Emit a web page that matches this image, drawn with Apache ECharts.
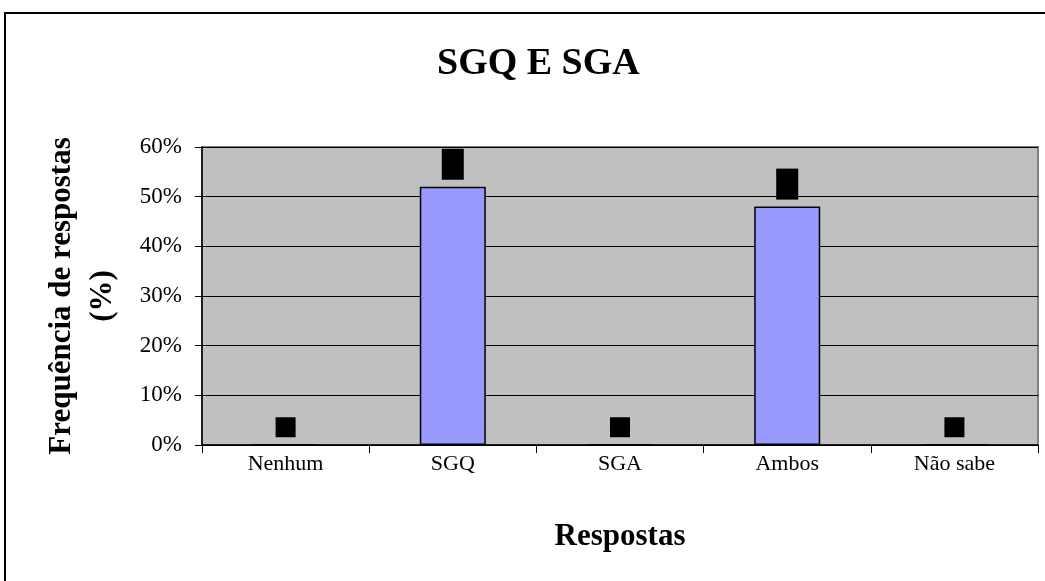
<!DOCTYPE html>
<html>
<head>
<meta charset="utf-8">
<script src="https://cdn.jsdelivr.net/npm/echarts@6/dist/echarts.min.js"></script>
<style>
html, body { margin: 0; padding: 0; background: #fff; }
#chart { width: 1045px; height: 581px; }
</style>
</head>
<body>
<div id="chart"></div>
<script>
var categories = ['Nenhum', 'SGQ', 'SGA', 'Ambos', 'Não sabe'];
var values = [0, 52, 0, 48, 0];
var yTicks = [0, 10, 20, 30, 40, 50, 60];

var serif = 'Liberation Serif';

echarts.init(document.getElementById('chart')).setOption({
	animation: false,
	title: {
		text: 'SGQ E SGA',
		left: 432,
		top: 40,
		textStyle: { fontFamily: serif, fontSize: 38, fontWeight: 'bold', color: '#000' }
	},
	graphic: [{
		type: 'rect',
		shape: { x: 5, y: 13, width: 1200, height: 800 },
		style: { fill: 'none', stroke: '#000', lineWidth: 2 },
		silent: true
	}],
	grid: {
		left: 202, right: 7, top: 147, bottom: 136,
		show: true,
		backgroundColor: '#c0c0c0',
		borderColor: '#808080',
		borderWidth: 2
	},
	xAxis: {
		type: 'category',
		data: categories,
		name: 'Respostas',
		nameLocation: 'middle',
		nameGap: 76,
		nameTextStyle: { fontFamily: serif, fontSize: 31, fontWeight: 'bold', color: '#000' },
		axisLine: { lineStyle: { color: '#000', width: 1.5 } },
		axisTick: { show: true, length: 8, lineStyle: { color: '#000' } },
		axisLabel: { fontFamily: serif, fontSize: 22, color: '#000', margin: 8 }
	},
	yAxis: {
		type: 'value',
		min: yTicks[0],
		max: yTicks[yTicks.length - 1],
		interval: 10,
		name: 'Frequência de respostas\n(%)',
		nameLocation: 'middle',
		nameGap: 79,
		nameTextStyle: { fontFamily: serif, fontSize: 31, fontWeight: 'bold', color: '#000', lineHeight: 41 },
		axisLine: { show: true, lineStyle: { color: '#000', width: 1.5 } },
		axisTick: { show: true, length: 7, lineStyle: { color: '#000' } },
		axisLabel: { fontFamily: serif, fontSize: 23, color: '#000', margin: 20, formatter: '{value}%' },
		splitLine: { lineStyle: { color: '#000', width: 1 } }
	},
	series: [{
		type: 'bar',
		data: values,
		barWidth: 66,
		itemStyle: { color: '#9999ff', borderColor: '#000', borderWidth: 1.5 },
		label: {
			show: true,
			position: 'top',
			distance: 7,
			formatter: function (p) {
				return p.value === 0 ? '{z|0%}' : '{v|' + p.value + '%}';
			},
			rich: {
				z: { width: 20, height: 20, backgroundColor: '#000', color: '#000', fontSize: 10, align: 'center' },
				v: { width: 22, height: 31, backgroundColor: '#000', color: '#000', fontSize: 10, align: 'center' }
			}
		}
	}]
});
</script>
</body>
</html>
